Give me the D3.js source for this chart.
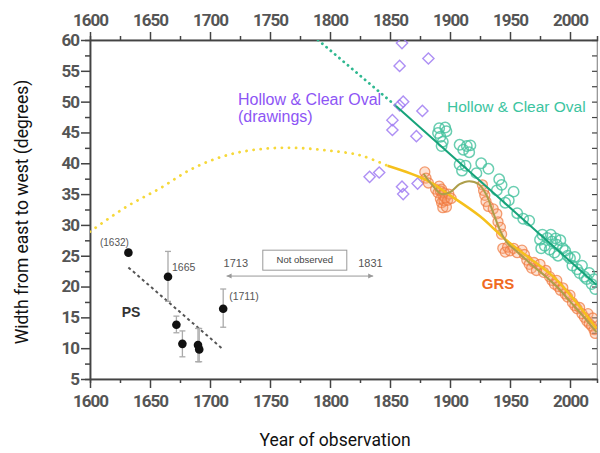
<!DOCTYPE html>
<html><head><meta charset="utf-8">
<script src="https://cdn.jsdelivr.net/npm/d3@7"></script>
<style>
html,body{margin:0;padding:0;background:#fff;}
svg{display:block;}
.tick text{font-family:'Roboto',sans-serif;font-weight:bold;font-size:17px;fill:#555;letter-spacing:-1px;}
</style></head>
<body>
<svg id="chart" width="600" height="453"></svg>
<script>
// ---------------- data ----------------
const xMajorTicks = [1600,1650,1700,1750,1800,1850,1900,1950,2000];
const xMinorTicks = [1625,1675,1725,1775,1825,1875,1925,1975];
const yMajorTicks = [5,10,15,20,25,30,35,40,45,50,55,60];
const yMinorTicks = [7.5,12.5,17.5,22.5,27.5,32.5,37.5,42.5,47.5,52.5,57.5];

// PS observations: [year, width, low, high]
const psPoints = [[1632,25.5,25.5,25.5],[1665,21.6,17.6,25.7],[1672,13.8,12.5,15.2],[1677,10.7,8.6,12.8],[1690,10.5,7.8,13.2],[1691,9.8,7.8,13.2],[1711,16.4,13.4,19.6]];
const psTrend = [[1632,23.1],[1711,9.8]];

// Hollow & Clear Oval drawings (purple diamonds)
const drawings = [[1860,59.5],[1882,57.0],[1858,55.8],[1861,50.0],[1858,49.4],[1877,48.5],[1852,47.0],[1852,45.4],[1872,44.4],[1833,37.8],[1841,38.5],[1860,36.2],[1861,35.0],[1873,36.7]];

// Hollow & Clear Oval measurements (green circles)
const ovalPts = [[1890,44.9],[1891,45.7],[1892,44.3],[1894,43.5],[1896,45.8],[1897,45.2],[1893,42.8],[1908,43.0],[1911,42.2],[1914,42.8],[1916,41.8],[1917,42.9],[1908,39.8],[1910,38.8],[1913,39.6],[1922,38.4],[1926,40.0],[1932,39.1],[1939,35.6],[1941,37.4],[1943,36.5],[1946,33.6],[1949,34.0],[1953,35.4],[1956,31.9],[1961,31.0],[1966,30.7],[1975,27.6],[1976,26.2],[1977,28.4],[1979,26.6],[1981,27.9],[1983,26.0],[1984,28.4],[1985,27.3],[1987,25.5],[1988,27.8],[1989,26.8],[1990,25.0],[1992,27.5],[1994,26.2],[1996,25.8],[1998,25.0],[2000,24.6],[2002,23.4],[2004,24.8],[2006,22.8],[2008,22.2],[2010,23.4],[2012,21.6],[2014,21.2],[2016,22.2],[2018,20.4],[2020,21.2],[2021,19.6]];
const ovalTrendDotted = [[1790,60.0],[1855,49.3]];
const ovalTrendSolid = [[1855,49.3],[2022,20.3]];

// GRS measurements (orange circles)
const grsPts = [[1879,38.6],[1880,37.6],[1882,36.8],[1888,35.8],[1890,35.2],[1891,36.3],[1892,35.5],[1892,34.2],[1893,35.8],[1893,33.6],[1894,34.8],[1894,32.8],[1895,35.2],[1895,33.9],[1896,34.4],[1897,32.9],[1898,34.0],[1899,35.0],[1901,34.3],[1927,36.5],[1928,35.6],[1929,34.8],[1930,33.8],[1932,33.0],[1936,32.6],[1939,31.8],[1940,30.5],[1942,29.6],[1943,28.5],[1944,26.2],[1946,25.6],[1948,26.4],[1950,25.8],[1953,26.2],[1956,25.5],[1960,25.9],[1962,25.2],[1964,24.3],[1966,23.6],[1968,23.0],[1970,23.9],[1972,22.6],[1975,23.6],[1978,22.3],[1980,22.6],[1983,21.6],[1985,21.0],[1987,20.4],[1989,21.0],[1990,20.0],[1992,19.4],[1994,19.8],[1996,18.8],[1998,18.3],[2000,18.6],[2002,17.4],[2004,16.9],[2006,16.4],[2008,16.6],[2010,15.6],[2012,15.0],[2014,14.4],[2015,15.6],[2016,14.0],[2018,13.6],[2019,14.9],[2020,13.0],[2021,12.4]];
const grsSmooth = [[1878,38.3],[1885,36.5],[1893,35.0],[1900,35.3],[1908,36.6],[1916,37.1],[1924,36.6],[1930,35.0],[1936,32.0],[1942,29.0],[1948,27.0],[1955,25.8],[1962,24.6],[1970,23.2],[1980,21.6],[1990,19.8],[2000,17.6],[2010,15.4],[2022,12.6]];

// long-term fit (yellow)
const fitDotted = [[1600,28.9],[1630,32.9],[1658,35.9],[1686,39.2],[1714,41.3],[1742,42.3],[1769,42.5],[1797,42.1],[1825,41.3],[1848,39.6]];
const fitSolid = [[1848,39.6],[1880,37.3],[1900,34.8],[1925,31.4],[1947,27.5],[1965,24.8],[1986,21.6],[2005,17.5],[2022,13.2]];

// ---------------- drawing ----------------
const svg = d3.select("#chart");
const x = d3.scaleLinear().domain([1600,2022.5]).range([90,597]);
const y = d3.scaleLinear().domain([5,60]).range([379,40]);
const axisCol = "#444";

svg.append("defs").append("clipPath").attr("id","clip")
  .append("rect").attr("x",90).attr("y",40).attr("width",507).attr("height",339);

// frame
svg.append("rect").attr("x",90).attr("y",40).attr("width",507).attr("height",339)
  .attr("fill","#fff").attr("stroke","#bbb").attr("stroke-width",1);

function styleAxis(g){
  g.select(".domain").attr("stroke",axisCol).attr("stroke-width",1.5);
  g.selectAll(".tick line").attr("stroke",axisCol).attr("stroke-width",1.5);
}
// left
svg.append("g").attr("transform","translate(90,0)")
  .call(d3.axisLeft(y).tickValues(yMinorTicks).tickSize(5).tickFormat("")).call(styleAxis);
svg.append("g").attr("transform","translate(90,0)")
  .call(d3.axisLeft(y).tickValues(yMajorTicks).tickSize(9).tickPadding(2).tickSizeOuter(0)).call(styleAxis);
// right (inward)
svg.append("g").attr("transform","translate(597,0)")
  .call(d3.axisLeft(y).tickValues(yMajorTicks.concat(yMinorTicks)).tickSize(5).tickFormat("").tickSizeOuter(0))
  .call(g=>{g.select(".domain").attr("stroke","#999").attr("stroke-width",1);g.selectAll(".tick line").attr("stroke",axisCol).attr("stroke-width",1.2);});
// bottom
svg.append("g").attr("transform","translate(0,379)")
  .call(d3.axisBottom(x).tickValues(xMinorTicks).tickSize(4).tickFormat("")).call(styleAxis);
svg.append("g").attr("transform","translate(0,379)")
  .call(d3.axisBottom(x).tickValues(xMajorTicks).tickSize(9).tickPadding(7).tickFormat(d3.format("d")).tickSizeOuter(0)).call(styleAxis);
// top
svg.append("g").attr("transform","translate(0,40)")
  .call(d3.axisTop(x).tickValues(xMinorTicks).tickSize(4).tickFormat("")).call(styleAxis);
svg.append("g").attr("transform","translate(0,40)")
  .call(d3.axisTop(x).tickValues(xMajorTicks).tickSize(8).tickPadding(6).tickFormat(d3.format("d")).tickSizeOuter(0)).call(styleAxis);

// axis titles
svg.append("text").attr("x",335).attr("y",446).attr("text-anchor","middle")
  .attr("font-family","Roboto, sans-serif").attr("font-size",17.5).attr("fill","#111").text("Year of observation");
svg.append("text").attr("transform","translate(28,212) rotate(-90)").attr("text-anchor","middle")
  .attr("font-family","Roboto, sans-serif").attr("font-size",17.5).attr("fill","#111").text("Width from east to west (degrees)");

const plot = svg.append("g").attr("clip-path","url(#clip)");
const line = d3.line().x(d=>x(d[0])).y(d=>y(d[1]));
const smooth = d3.line().x(d=>x(d[0])).y(d=>y(d[1])).curve(d3.curveCatmullRom);

// yellow fit (dotted part)
plot.append("path").attr("d",smooth(fitDotted)).attr("fill","none").attr("stroke","#f6d83a")
  .attr("stroke-width",2.8).attr("stroke-dasharray","0.1,7").attr("stroke-linecap","round");
// green trend dotted
plot.append("path").attr("d",line(ovalTrendDotted)).attr("fill","none").attr("stroke","#2fb890")
  .attr("stroke-width",2.8).attr("stroke-dasharray","0.1,5.5").attr("stroke-linecap","round");

// purple diamonds
plot.selectAll(".dia").data(drawings).join("path")
  .attr("d",d3.symbol(d3.symbolDiamond2 || d3.symbolDiamond,80))
  .attr("transform",d=>`translate(${x(d[0])},${y(d[1])})`)
  .attr("fill","none").attr("stroke","#a07cf2").attr("stroke-width",1.4).attr("opacity",0.85);

// green circles
plot.selectAll(".ov").data(ovalPts).join("circle")
  .attr("cx",d=>x(d[0])).attr("cy",d=>y(d[1])).attr("r",5.2)
  .attr("fill","none").attr("stroke","#45c29e").attr("stroke-width",1.5).attr("opacity",0.8);

// orange circles
plot.selectAll(".grs").data(grsPts).join("circle")
  .attr("cx",d=>x(d[0])).attr("cy",d=>y(d[1])).attr("r",5)
  .attr("fill","#f7a070").attr("fill-opacity",0.3).attr("stroke","#f0763a").attr("stroke-width",1.3).attr("stroke-opacity",0.7);

// solid trends
plot.append("path").attr("d",smooth(fitSolid)).attr("fill","none").attr("stroke","#f5c01c").attr("stroke-width",2.5);
plot.append("path").attr("d",line(ovalTrendSolid)).attr("fill","none").attr("stroke","#17a37a").attr("stroke-width",2);
plot.append("path").attr("d",smooth(grsSmooth)).attr("fill","none").attr("stroke","#ad9e4a").attr("stroke-width",2);

// PS
plot.append("path").attr("d",line(psTrend)).attr("fill","none").attr("stroke","#555")
  .attr("stroke-width",2).attr("stroke-dasharray","3,3");
const eb = plot.selectAll(".eb").data(psPoints.filter(d=>d[3]>d[2])).join("g").attr("stroke","#aaa").attr("stroke-width",1.3);
eb.append("line").attr("x1",d=>x(d[0])).attr("x2",d=>x(d[0])).attr("y1",d=>y(d[2])).attr("y2",d=>y(d[3]));
eb.append("line").attr("x1",d=>x(d[0])-3).attr("x2",d=>x(d[0])+3).attr("y1",d=>y(d[2])).attr("y2",d=>y(d[2]));
eb.append("line").attr("x1",d=>x(d[0])-3).attr("x2",d=>x(d[0])+3).attr("y1",d=>y(d[3])).attr("y2",d=>y(d[3]));
plot.selectAll(".ps").data(psPoints).join("circle")
  .attr("cx",d=>x(d[0])).attr("cy",d=>y(d[1])).attr("r",4.3).attr("fill","#111");

// annotations
const small = (t,xx,yy,anchor,size,col,weight)=>svg.append("text").attr("x",xx).attr("y",yy)
  .attr("text-anchor",anchor||"start").attr("font-family","'Liberation Sans', Arial, sans-serif")
  .attr("font-size",size||10).attr("fill",col||"#555").attr("font-weight",weight||"normal").text(t);
small("(1632)",x(1632)-14,y(25.5)-7,"middle",10);
small("1665",x(1665)+4,y(21.6)-6,"start",10.5);
small("(1711)",x(1711)+6,y(16.4)-9,"start",10.5);
small("PS",131,317,"middle",14,"#333","bold");
small("1713",x(1713)-2,y(23.1),"start",11);
small("1831",x(1831)-9,y(23.1),"start",11);
svg.append("rect").attr("x",x(1744)).attr("y",y(25.9)).attr("width",84).attr("height",20)
  .attr("fill","#fff").attr("stroke","#999").attr("stroke-width",1);
small("Not observed",x(1744)+42,y(25.9)+13,"middle",9.5,"#444");
// double arrow
const ay = y(21.7);
svg.append("line").attr("x1",x(1713)+1).attr("x2",x(1836)).attr("y1",ay).attr("y2",ay).attr("stroke","#999").attr("stroke-width",1);
svg.append("path").attr("d",`M${x(1713)+1},${ay}l5,-2.5v5z M${x(1836)},${ay}l-5,-2.5v5z`).attr("fill","#999");

small("Hollow & Clear Oval",238,105,"start",16,"#8d55f5");
small("(drawings)",238,122,"start",16,"#8d55f5");
small("Hollow & Clear Oval",447,112,"start",15.5,"#3cc4a0");
small("GRS",498,289,"middle",15,"#f06a22","bold");
</script>
</body></html>
